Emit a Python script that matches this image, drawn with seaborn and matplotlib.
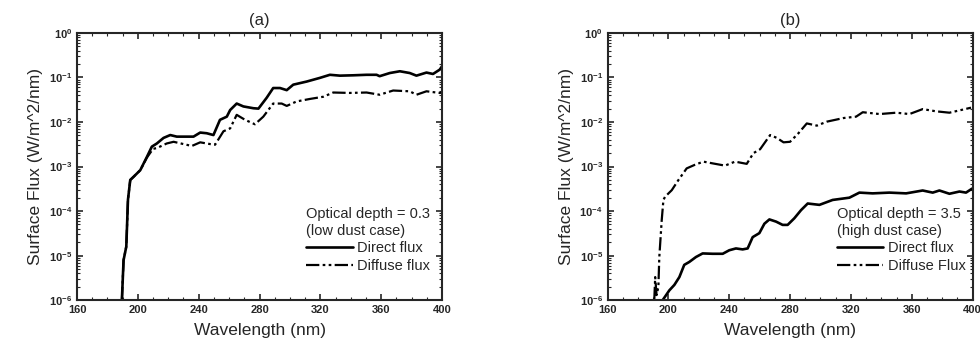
import numpy as np
import pandas as pd
import matplotlib
matplotlib.use("Agg")
import matplotlib.pyplot as plt
import matplotlib.ticker as mticker
import seaborn as sns

# panel (a): optical depth 0.3
wl_dir_a = [189.5, 190.6, 192.4, 193.5, 195.0, 197.2, 201.6, 206.0, 209.2, 212.5, 216.9, 221.3,
            225.6, 232.2, 236.6, 241.0, 245.3, 249.7, 254.0, 258.5, 260.7, 265.0, 269.4, 276.0,
            279.3, 284.7, 289.0, 293.5, 297.9, 302.2, 311.0, 319.7, 326.3, 332.9, 341.6, 350.4,
            357.0, 359.0, 365.7, 372.3, 378.8, 383.2, 389.8, 394.1, 398.5, 400.0]
flux_dir_a = [1e-6, 7.9e-6, 1.6e-5, 1.8e-4, 5.0e-4, 5.9e-4, 8.3e-4, 1.66e-3, 2.8e-3, 3.3e-3, 4.4e-3, 5.1e-3,
              4.7e-3, 4.7e-3, 4.7e-3, 5.8e-3, 5.6e-3, 5.1e-3, 1.12e-2, 1.32e-2, 1.86e-2, 2.6e-2, 2.24e-2, 2.04e-2,
              2.0e-2, 3.5e-2, 5.8e-2, 5.8e-2, 5.2e-2, 6.9e-2, 8.1e-2, 9.8e-2, 0.115, 0.110, 0.112, 0.115,
              0.115, 0.107, 0.126, 0.138, 0.126, 0.110, 0.129, 0.120, 0.150, 0.178]
wl_dif_a = [189.5, 190.6, 192.4, 193.5, 195.0, 197.2, 201.6, 206.0, 210.0, 212.5, 219.0, 223.5,
            230.0, 235.5, 241.0, 247.5, 250.8, 256.3, 260.7, 265.0, 270.5, 277.0, 282.5, 289.0,
            294.6, 297.9, 304.4, 313.2, 322.0, 328.5, 339.4, 350.4, 359.0, 367.9, 378.8, 383.2,
            389.8, 398.5, 400.0]
flux_dif_a = [1e-6, 7.9e-6, 1.6e-5, 1.8e-4, 5.0e-4, 5.9e-4, 8.3e-4, 1.6e-3, 2.5e-3, 2.6e-3, 3.3e-3, 3.6e-3,
              3.2e-3, 2.9e-3, 3.5e-3, 3.2e-3, 3.1e-3, 6.2e-3, 7.2e-3, 1.45e-2, 1.12e-2, 8.9e-3, 1.32e-2, 2.6e-2,
              2.6e-2, 2.3e-2, 2.9e-2, 3.3e-2, 3.7e-2, 4.6e-2, 4.5e-2, 4.6e-2, 4.1e-2, 5.1e-2, 4.9e-2, 4.1e-2,
              4.9e-2, 4.5e-2, 4.6e-2]

# panel (b): optical depth 3.5
wl_dir_b = [196.2, 200.6, 203.9, 207.2, 210.4, 213.7, 218.1, 222.5, 229.1, 235.7, 240.0, 244.4,
            248.8, 252.1, 255.4, 259.8, 263.1, 266.4, 270.8, 275.1, 278.4, 282.8, 287.2, 291.6,
            299.3, 308.0, 319.0, 325.6, 334.3, 345.3, 356.3, 367.2, 373.8, 378.2, 384.8, 391.4,
            395.7, 399.7]
flux_dir_b = [1e-6, 1.66e-6, 2.2e-6, 3.3e-6, 6.2e-6, 7.2e-6, 9.3e-6, 1.12e-5, 1.1e-5, 1.1e-5, 1.32e-5, 1.45e-5,
              1.38e-5, 1.45e-5, 2.6e-5, 3.2e-5, 5.2e-5, 6.5e-5, 5.8e-5, 4.9e-5, 4.9e-5, 6.9e-5, 1.05e-4, 1.48e-4,
              1.38e-4, 1.78e-4, 2.0e-4, 2.6e-4, 2.5e-4, 2.6e-4, 2.5e-4, 2.9e-4, 2.6e-4, 2.9e-4, 2.45e-4, 2.75e-4,
              2.6e-4, 3.2e-4]
wl_dif_b = [190.7, 191.3, 192.2, 193.4, 194.0, 195.6, 196.7, 197.8, 202.2, 206.6, 212.0, 217.5,
            223.0, 229.6, 237.2, 243.8, 251.5, 255.9, 260.3, 266.9, 271.3, 275.7, 280.0, 285.5,
            291.0, 297.6, 304.2, 315.2, 323.4, 327.8, 338.9, 349.8, 358.5, 367.2, 376.0, 384.8,
            393.6, 399.0]
flux_dif_b = [1e-6, 3.3e-6, 1.3e-6, 2.0e-6, 9.3e-6, 6.3e-5, 1.78e-4, 2.1e-4, 2.95e-4, 5.0e-4, 9.1e-4, 1.1e-3,
              1.29e-3, 1.17e-3, 1.05e-3, 1.29e-3, 1.15e-3, 2.0e-3, 2.45e-3, 5.1e-3, 4.4e-3, 3.5e-3, 3.6e-3, 5.6e-3,
              9.3e-3, 8.3e-3, 1.02e-2, 1.23e-2, 1.32e-2, 1.66e-2, 1.51e-2, 1.62e-2, 1.51e-2, 1.95e-2, 1.74e-2, 1.62e-2,
              1.9e-2, 2.1e-2]

y_ticks = [1e-6, 1e-5, 1e-4, 1e-3, 1e-2, 1e-1, 1e0]

sns.set_style("ticks")
plt.rcParams['font.family'] = ['Liberation Sans', 'DejaVu Sans']
plt.rcParams['mathtext.fontset'] = 'custom'
plt.rcParams['mathtext.bf'] = 'Liberation Sans:bold'
plt.rcParams['mathtext.rm'] = 'Liberation Sans'

fig = plt.figure(figsize=(9.8, 3.47), dpi=100)
ax_a = fig.add_axes([0.0786, 0.135, 0.3724, 0.77])
ax_b = fig.add_axes([0.620, 0.135, 0.3724, 0.77])

dashdotdot = (0, (6, 1.5, 1.2, 1.5, 1.2, 1.5))

def log_fmt(v, pos):
    e = int(np.round(np.log10(v)))
    return r'$\mathbf{10^{%d}}$' % e

panels = [
    (ax_a, "(a)", wl_dir_a, flux_dir_a, wl_dif_a, flux_dif_a,
     "Optical depth = 0.3\n(low dust case)", "Diffuse flux"),
    (ax_b, "(b)", wl_dir_b, flux_dir_b, wl_dif_b, flux_dif_b,
     "Optical depth = 3.5\n(high dust case)", "Diffuse Flux"),
]

for ax, title, wd, fd, wf, ff, legtitle, difflabel in panels:
    df_d = pd.DataFrame({'wl': wd, 'flux': fd})
    df_f = pd.DataFrame({'wl': wf, 'flux': ff})
    sns.lineplot(data=df_d, x='wl', y='flux', ax=ax, color='black', lw=1.9,
                 label='Direct flux', estimator=None, sort=False)
    sns.lineplot(data=df_f, x='wl', y='flux', ax=ax, color='black', lw=1.6,
                 label=difflabel, estimator=None, sort=False)
    ax.lines[1].set_linestyle(dashdotdot)
    ax.set_yscale('log')
    ax.set_xlim(160, 400)
    ax.set_ylim(1e-6, 1)
    ax.xaxis.set_major_locator(mticker.MultipleLocator(40))
    ax.xaxis.set_minor_locator(mticker.MultipleLocator(10))
    ax.set_yticks(y_ticks)
    ax.yaxis.set_minor_locator(mticker.FixedLocator(
        [m * 10.0 ** e for e in range(-6, 0) for m in range(2, 10)]))
    ax.yaxis.set_major_formatter(mticker.FuncFormatter(log_fmt))
    ax.yaxis.set_minor_formatter(mticker.NullFormatter())
    ax.tick_params(which='both', direction='in', top=True, right=True, labelsize=8)
    ax.tick_params(which='major', length=4, width=1.2)
    ax.tick_params(which='minor', length=2, width=0.8)
    for lab in ax.get_xticklabels():
        lab.set_fontweight('bold')
    for sp in ax.spines.values():
        sp.set_linewidth(1.5)
        sp.set_visible(True)
    ax.set_xlabel('Wavelength (nm)', fontsize=12.5, labelpad=6)
    ax.set_ylabel('Surface Flux (W/m^2/nm)', fontsize=12.5, labelpad=4)
    ax.set_title(title, fontsize=12, pad=6)
    leg = ax.legend(title=legtitle, loc='upper left', bbox_to_anchor=(0.6, 0.385),
                    frameon=False, fontsize=10.5, title_fontsize=10.5, handlelength=3.2,
                    handletextpad=0.3, borderpad=0.2, labelspacing=0.25)
    leg._legend_box.align = "left"

fig.savefig('out.png', dpi=100)
